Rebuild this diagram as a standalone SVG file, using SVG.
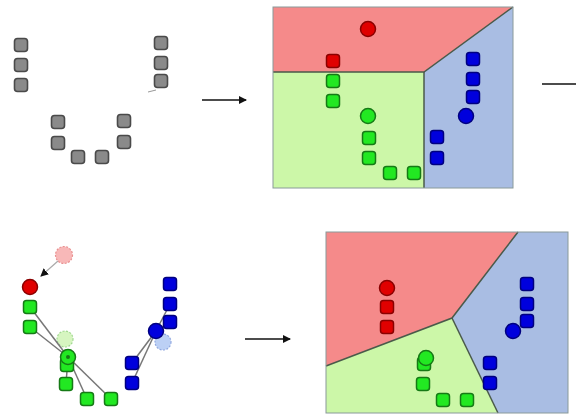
<svg xmlns="http://www.w3.org/2000/svg" width="576" height="415" viewBox="0 0 576 415">
<style>
.g{fill:#8a8a8a;stroke:#4a4a4a;stroke-width:1.6}
.r{fill:#e00000;stroke:#8a0000;stroke-width:1.5}
.gr{fill:#22e822;stroke:#167a16;stroke-width:1.5}
.b{fill:#0000dd;stroke:#000080;stroke-width:1.5}
.edge{stroke:#777;stroke-width:1.5;fill:none}
.arr{stroke:#111;stroke-width:1.5;fill:none}
.bd{stroke:#4a5a4a;stroke-width:1.5;fill:none}
</style>
<defs>
<rect id="sq" x="-6.5" y="-6.5" width="13" height="13" rx="3"/>
<marker id="ah" markerWidth="8" markerHeight="8" refX="7" refY="4" orient="auto" markerUnits="userSpaceOnUse"><path d="M0,0 L8,4 L0,8 Z" fill="#111"/></marker>
</defs>
<rect width="576" height="415" fill="#fff"/>

<g id="panel1">
<use href="#sq" class="g" x="21" y="45"/><use href="#sq" class="g" x="21" y="65"/><use href="#sq" class="g" x="21" y="85"/>
<use href="#sq" class="g" x="161" y="43"/><use href="#sq" class="g" x="161" y="63"/><use href="#sq" class="g" x="161" y="81"/>
<line x1="148" y1="92" x2="156" y2="90" stroke="#999" stroke-width="1"/>
<use href="#sq" class="g" x="58" y="122"/><use href="#sq" class="g" x="58" y="143"/>
<use href="#sq" class="g" x="78" y="157"/><use href="#sq" class="g" x="102" y="157"/>
<use href="#sq" class="g" x="124" y="121"/><use href="#sq" class="g" x="124" y="142"/>
</g>

<g id="connectors">
<line class="arr" x1="202" y1="100" x2="246" y2="100" marker-end="url(#ah)"/>
<line class="arr" x1="542" y1="84" x2="576" y2="84"/>
<line class="arr" x1="245" y1="339" x2="290" y2="339" marker-end="url(#ah)"/>
</g>

<g id="panel2">
<polygon points="273,7 513,7 424,72 273,72" fill="#f58a8a"/>
<polygon points="273,72 424,72 424,188 273,188" fill="#ccf7a8"/>
<polygon points="513,7 513,188 424,188 424,72" fill="#a9bde3"/>
<polyline class="bd" points="273,72 424,72 513,7"/>
<line class="bd" x1="424" y1="72" x2="424" y2="188"/>
<rect x="273" y="7" width="240" height="181" fill="none" stroke="#8a9a9a" stroke-width="1"/>
<circle class="r" cx="368" cy="29" r="7.5"/>
<use href="#sq" class="r" x="333" y="61"/>
<use href="#sq" class="gr" x="333" y="81"/><use href="#sq" class="gr" x="333" y="101"/>
<circle class="gr" cx="368" cy="116" r="7.5"/>
<use href="#sq" class="gr" x="369" y="138"/><use href="#sq" class="gr" x="369" y="158"/>
<use href="#sq" class="gr" x="390" y="173"/><use href="#sq" class="gr" x="414" y="173"/>
<use href="#sq" class="b" x="473" y="59"/><use href="#sq" class="b" x="473" y="79"/><use href="#sq" class="b" x="473" y="97"/>
<circle class="b" cx="466" cy="116" r="7.5"/>
<use href="#sq" class="b" x="437" y="137"/><use href="#sq" class="b" x="437" y="158"/>
</g>

<g id="panel3">
<circle cx="64" cy="255" r="8.5" fill="#f8b8b8" stroke="#e89090" stroke-width="1.2" stroke-dasharray="2,1.5"/>
<line x1="58" y1="261" x2="41" y2="276" stroke="#aaa" stroke-width="1.2" marker-end="url(#ah)"/>
<circle cx="65" cy="339" r="8" fill="#d6f5c0" stroke="#a0d890" stroke-width="1.2" stroke-dasharray="2,1.5"/>
<circle cx="163" cy="342" r="8" fill="#bcd0f5" stroke="#90a8e0" stroke-width="1.2" stroke-dasharray="2,1.5"/>
<g class="edge">
<line x1="30" y1="307" x2="68" y2="357"/><line x1="30" y1="327" x2="68" y2="357"/>
<line x1="68" y1="357" x2="66" y2="384"/><line x1="68" y1="357" x2="87" y2="399"/><line x1="68" y1="357" x2="111" y2="399"/>
<line x1="156" y1="331" x2="132" y2="363"/><line x1="156" y1="331" x2="132" y2="383"/>
<line x1="156" y1="331" x2="170" y2="304"/><line x1="156" y1="331" x2="170" y2="322"/>
</g>
<circle class="r" cx="30" cy="287" r="7.5"/>
<use href="#sq" class="gr" x="30" y="307"/><use href="#sq" class="gr" x="30" y="327"/>
<use href="#sq" class="gr" x="67" y="365"/>
<circle class="gr" cx="68" cy="357" r="7.5"/>
<circle cx="68" cy="357" r="2" fill="#167a16"/>
<use href="#sq" class="gr" x="66" y="384"/><use href="#sq" class="gr" x="87" y="399"/><use href="#sq" class="gr" x="111" y="399"/>
<use href="#sq" class="b" x="170" y="284"/><use href="#sq" class="b" x="170" y="304"/><use href="#sq" class="b" x="170" y="322"/>
<circle class="b" cx="156" cy="331" r="7.5"/>
<use href="#sq" class="b" x="132" y="363"/><use href="#sq" class="b" x="132" y="383"/>
</g>

<g id="panel4">
<polygon points="326,232 518,232 452,318 326,366" fill="#f58a8a"/>
<polygon points="326,366 452,318 498,413 326,413" fill="#ccf7a8"/>
<polygon points="518,232 568,232 568,413 498,413 452,318" fill="#a9bde3"/>
<polyline class="bd" points="326,366 452,318 518,232"/>
<line class="bd" x1="452" y1="318" x2="498" y2="413"/>
<rect x="326" y="232" width="242" height="181" fill="none" stroke="#8a9a9a" stroke-width="1"/>
<circle class="r" cx="387" cy="288" r="7.5"/>
<use href="#sq" class="r" x="387" y="307"/><use href="#sq" class="r" x="387" y="327"/>
<use href="#sq" class="b" x="527" y="284"/><use href="#sq" class="b" x="527" y="304"/><use href="#sq" class="b" x="527" y="321"/>
<circle class="b" cx="513" cy="331" r="7.5"/>
<use href="#sq" class="b" x="490" y="363"/><use href="#sq" class="b" x="490" y="383"/>
<use href="#sq" class="gr" x="424" y="364"/>
<circle class="gr" cx="426" cy="358" r="7.5"/>
<use href="#sq" class="gr" x="423" y="384"/><use href="#sq" class="gr" x="443" y="400"/><use href="#sq" class="gr" x="467" y="400"/>
</g>
</svg>
